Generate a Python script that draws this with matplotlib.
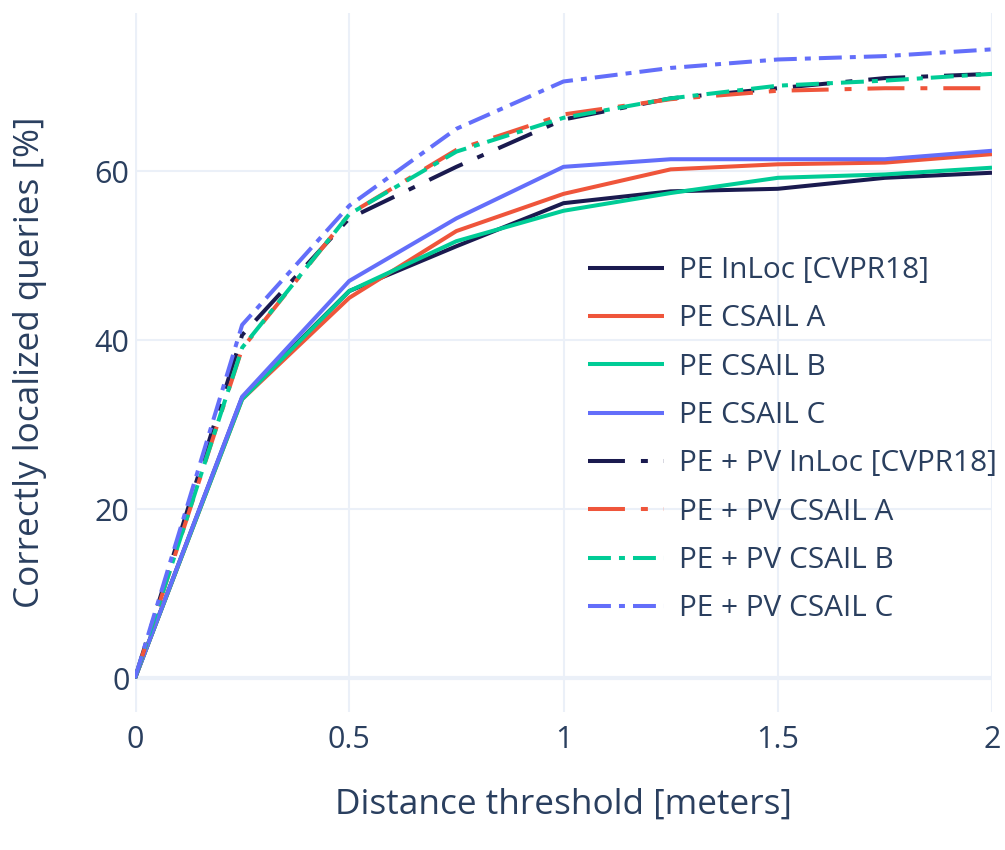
import matplotlib
matplotlib.use("Agg")
import matplotlib.pyplot as plt

plt.rcParams['font.family'] = ['Open Sans', 'DejaVu Sans']
plt.rcParams['lines.scale_dashes'] = False

thresholds = [0, 0.25, 0.5, 0.75, 1, 1.25, 1.5, 1.75, 2]

pe_inloc = [0, 33.2, 45.8, 51.1, 56.2, 57.6, 57.9, 59.2, 59.8]
pe_csail_a = [0, 33.0, 45.0, 52.9, 57.3, 60.2, 60.8, 61.0, 62.0]
pe_csail_b = [0, 33.0, 45.8, 51.7, 55.3, 57.4, 59.2, 59.6, 60.4]
pe_csail_c = [0, 33.3, 47.0, 54.4, 60.5, 61.4, 61.4, 61.4, 62.4]

pepv_inloc = [0, 40.6, 54.4, 60.5, 66.1, 68.6, 69.8, 71.0, 71.5]
pepv_csail_a = [0, 39.0, 54.9, 62.5, 66.7, 68.5, 69.5, 69.8, 69.8]
pepv_csail_b = [0, 39.1, 54.9, 62.3, 66.3, 68.6, 70.1, 70.7, 71.5]
pepv_csail_c = [0, 41.8, 55.9, 65.0, 70.6, 72.2, 73.2, 73.6, 74.4]

labels = ["PE InLoc [CVPR18]", "PE CSAIL A", "PE CSAIL B", "PE CSAIL C",
          "PE + PV InLoc [CVPR18]", "PE + PV CSAIL A", "PE + PV CSAIL B", "PE + PV CSAIL C"]
series = [pe_inloc, pe_csail_a, pe_csail_b, pe_csail_c,
          pepv_inloc, pepv_csail_a, pepv_csail_b, pepv_csail_c]
colors = ["#1a1a4f", "#ef553b", "#00cc96", "#636efa"] * 2

long_dashdot = (0, (26.6, 11.5, 5, 11.5))
dashdot = (0, (16.5, 5.8, 4.3, 5.8))
styles = ["-"] * 4 + [long_dashdot, long_dashdot, dashdot, dashdot]

text_color = "#2a3f5f"
grid_color = "#ebf0f8"

fig = plt.figure(figsize=(10.05, 8.5), dpi=100)
ax = fig.add_axes([135 / 1005, 138 / 850, 857 / 1005, 699 / 850])

for vals, lab, col, ls in zip(series, labels, colors, styles):
    ax.plot(thresholds, vals, color=col, linestyle=ls, linewidth=2.9, label=lab,
            solid_capstyle="butt", dash_capstyle="butt")

ax.set_xlim(0, 2)
ax.set_ylim(-4, 78.7)
ax.set_xticks([0, 0.5, 1, 1.5, 2])
ax.set_xticklabels(["0", "0.5", "1", "1.5", "2"])
ax.set_yticks([0, 20, 40, 60])

ax.grid(True, color=grid_color, linewidth=1.5)
ax.axhline(0, color=grid_color, linewidth=3, zorder=0.5)
ax.axvline(0, color=grid_color, linewidth=3, zorder=0.5)
ax.set_axisbelow(True)
for s in ax.spines.values():
    s.set_visible(False)
ax.tick_params(length=0, labelsize=22, labelcolor=text_color)
ax.tick_params(axis="y", pad=4)
ax.tick_params(axis="x", pad=9)

ax.set_xlabel("Distance threshold [meters]", fontsize=25.3, color=text_color, labelpad=24)
ax.set_ylabel("Correctly localized queries [%]", fontsize=25.3, color=text_color)
ax.yaxis.set_label_coords(-0.103, 0.5)

ax.legend(loc="upper left", bbox_to_anchor=(588 / 1005, 1 - 256 / 850),
          bbox_transform=fig.transFigure, frameon=False, fontsize=21.4,
          labelcolor=text_color, handlelength=2.55, handletextpad=0.5,
          labelspacing=0.65, borderpad=0, borderaxespad=0)

fig.savefig("out.png", dpi=100)
